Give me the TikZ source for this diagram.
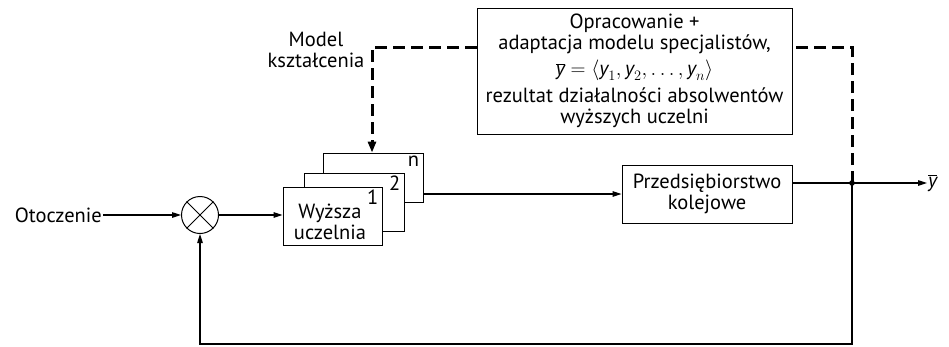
\documentclass[tikz,border=0pt]{standalone}
\usepackage{fontspec}
\setmainfont{PT Sans}
\usetikzlibrary{arrows.meta,calc}
\begin{document}
\begin{tikzpicture}[x=1pt,y=-1pt,
  font=\fontsize{20.5}{21}\selectfont,
  blk/.style={draw, line width=0.8pt, fill=white, inner sep=0pt},
  arr/.style={line width=1.1pt, -{Triangle[length=9pt,width=5.5pt]}},
  ln/.style={line width=1.1pt},
  dsh/.style={line width=3pt, dash pattern=on 12pt off 6pt},
  lbl/.style={inner sep=1pt}]
\useasboundingbox (0,0) rectangle (949,346);
% stacked boxes
\node[blk, minimum width=100pt, minimum height=49pt] (bn) at (373,177.5) {};
\node[blk, minimum width=100pt, minimum height=58pt] (b2) at (354,202) {};
\node[blk, minimum width=99pt, minimum height=58pt] (b1) at (332.5,216) {};
\node[lbl, anchor=north east] (tn) at ($(bn.north east)+(-3,2)$) {n};
\node[lbl, anchor=north east] (t2) at ($(b2.north east)+(-3,2)$) {2};
\node[lbl, anchor=north east] (t1) at ($(b1.north east)+(-3,2)$) {1};
\node[lbl, align=center] (b1t) at (330,222) {Wyższa\\uczelnia};
% summing junction
\node[draw, circle, line width=1pt, minimum size=37pt, inner sep=0pt] (sum) at (200,215) {};
\draw[line width=0.8pt] (sum.north west) -- (sum.south east) (sum.north east) -- (sum.south west);
% input
\node[lbl, anchor=east] (ot) at (103,215) {Otoczenie};
\draw[arr] (ot.east) -- (sum.west);
\draw[arr] (sum.east) -- (sum.east -| b1.west);
% enterprise
\node[blk, minimum width=170pt, minimum height=58pt, align=center] (pb) at (707,194) {Przedsiębiorstwo\\kolejowe};
\draw[arr] (bn.east |- pb.west) -- (pb.west);
% output
\coordinate (j) at (852,183);
\node[lbl, anchor=west] (yout) at (927,183) {$\overline{\textit{y}}$};
\draw[ln] (pb.east |- j) -- (j);
\draw[arr] (j) -- (yout.west);
\fill (j) circle (2.8pt);
% feedback
\coordinate (fb) at (852,344);
\draw[arr] (j) -- (fb) -| (sum.south);
% top box
\node[blk, minimum width=315pt, minimum height=126pt, align=center] (top) at (634.5,71)
  {Opracowanie +\\
   adaptacja modelu specjalistów,\\[5pt]
   $\overline{\textit{y}}=\left\langle \textit{y}_1,\textit{y}_2,\ldots,\textit{y}_n\right\rangle$\\[6pt]
   rezultat działalności absolwentów\\
   wyższych uczelni};
% model label
\node[lbl, align=center] (mk) at (316,50) {Model\\kształcenia};
% dashed
\coordinate (d1) at (852,47);
\coordinate (d2) at (372,47);
\draw[dsh] (j) -- (d1) -- (d1 -| top.east);
\draw[dsh, -{Triangle[length=11pt,width=8pt]}] (d1 -| top.west) -- (d2) -- (d2 |- bn.north);
\end{tikzpicture}
\end{document}
